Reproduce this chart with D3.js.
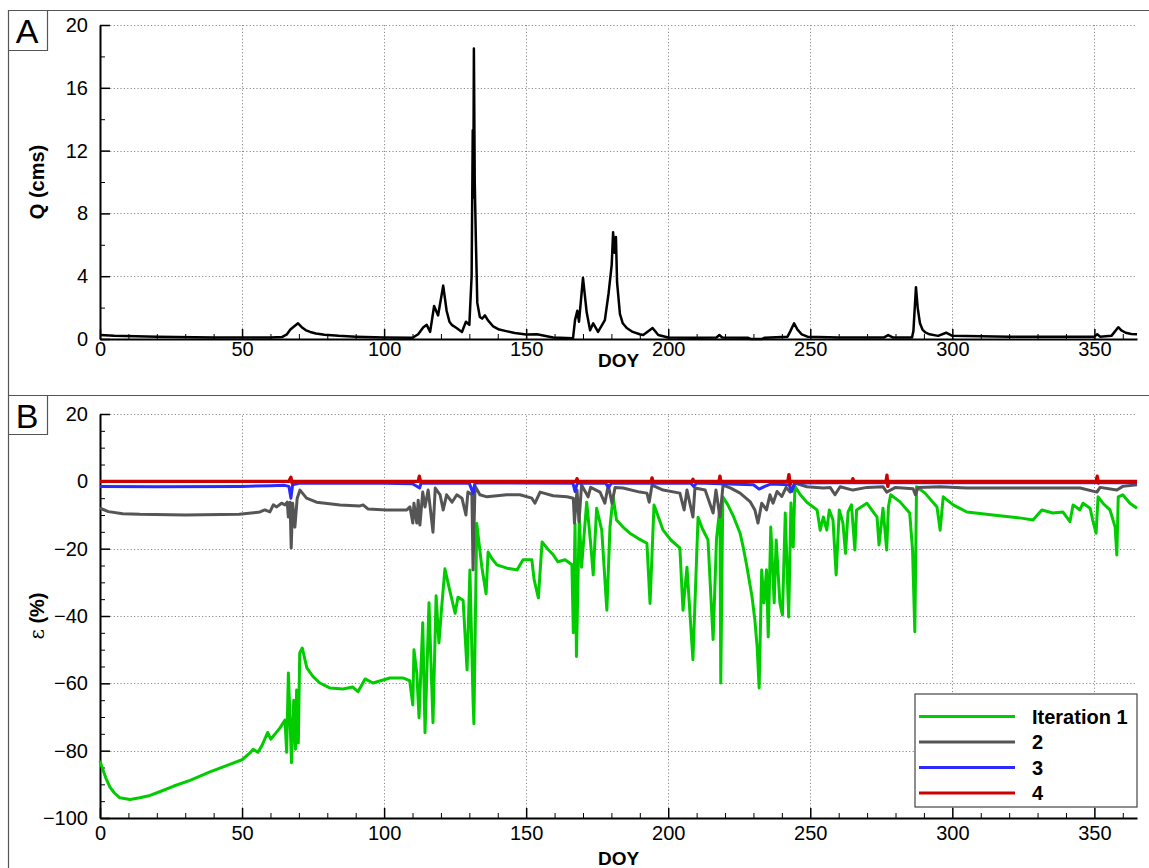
<!DOCTYPE html>
<html>
<head>
<meta charset="utf-8">
<script src="https://cdn.jsdelivr.net/npm/d3@7"></script>
<style>
  body { margin: 0; background: #fff; }
  text { font-family: "Liberation Sans", Arial, sans-serif; fill: #000; }
</style>
</head>
<body>
<svg id="chart" width="1149" height="868"></svg>
<script>
// ---- data ----
// panel A : discharge, [DOY, Q cms]
const qSeries = [[0,0.25],[5,0.2],[20,0.15],[40,0.1],[60,0.1],[64,0.12],[65.8,0.3],[67,0.6],[69.7,1.0],[71,0.75],[72.5,0.55],[74,0.45],[76,0.35],[79,0.27],[84,0.2],[90,0.15],[100,0.1],[110,0.08],[112,0.3],[113.8,0.75],[115,0.9],[116.2,0.45],[117.6,2.1],[119,1.5],[120.8,3.4],[122,1.8],[123,1.1],[123.8,0.9],[125.5,0.7],[127.4,0.45],[128.8,1.1],[130,0.9],[130.8,4],[131.2,13.3],[131.4,9],[131.6,18.5],[131.9,10],[132.3,6.3],[132.8,2.3],[133.7,1.4],[134.5,1.3],[135.5,1.5],[136.5,1.2],[138.4,0.8],[140.5,0.6],[143,0.5],[146,0.38],[150,0.28],[153.8,0.3],[159.5,0.1],[166.5,0.05],[167.2,1.2],[168,1.8],[168.6,1.1],[170,3.9],[171.3,1.7],[172.5,0.55],[173.6,1.0],[175.3,0.45],[177.7,1.2],[179,2.9],[180.1,4.7],[180.6,6.8],[181.1,5.5],[181.6,6.5],[182,3.6],[183,1.6],[184,1.0],[185.4,0.7],[187.5,0.45],[190,0.3],[191.2,0.25],[194.5,0.7],[196.5,0.25],[200,0.1],[210,0.08],[217,0.1],[218,0.25],[219,0.1],[228,0.08],[229,0.0],[233,0.0],[234,0.08],[242,0.15],[243,0.5],[244.3,1.0],[245.5,0.6],[247,0.3],[249,0.15],[260,0.1],[276,0.1],[277.4,0.25],[279,0.1],[285.8,0.1],[286.3,0.5],[287.2,3.3],[287.8,2],[288.6,1.0],[289.5,0.6],[290.5,0.42],[292,0.3],[295,0.2],[297.8,0.4],[300,0.2],[320,0.15],[340,0.15],[350,0.15],[351,0.3],[352,0.15],[356,0.2],[358.4,0.75],[359.5,0.55],[361,0.4],[363,0.32],[365,0.3]];

// panel B : error by iteration, [DOY, epsilon %]
const iter1 = [[0,-83],[0.6,-84.6],[2,-88],[3.5,-90.8],[5,-92.5],[7,-94],[10.6,-94.5],[14,-94],[17.6,-93.3],[21,-92.2],[26,-90.5],[31.7,-88.8],[38.7,-86.3],[45,-84.3],[50,-82.7],[53,-80.5],[53.9,-79.6],[55.6,-80.5],[57,-78.5],[59,-74.6],[60.1,-76.6],[63.3,-73.3],[65.1,-70.9],[65.7,-80.5],[66.3,-56.9],[66.9,-70.9],[67.4,-83.6],[68.2,-65],[68.8,-79.6],[69.2,-62],[69.8,-77.7],[70.3,-51],[71.2,-49.5],[72.8,-55.4],[75,-58],[77.4,-59.9],[81,-61.4],[85.5,-61.7],[89,-61.1],[90.8,-62.5],[93.3,-58.7],[96.1,-59.9],[102,-58.4],[106.6,-58.4],[109,-59.2],[110.1,-66.4],[110.5,-50],[111.5,-56.9],[112.3,-70.2],[113.6,-42],[114.4,-74.7],[115.8,-36.1],[117.2,-71.7],[118.3,-34],[119.3,-48],[120.2,-38],[121.4,-26],[123,-32],[125,-39.2],[126,-34.4],[127.8,-35.3],[129.2,-56],[130.2,-26.3],[131.3,-65],[131.6,-72],[132.6,-12.5],[134.4,-25.5],[135.9,-33.4],[136.6,-21],[138,-23],[139.7,-24.8],[143.2,-25.8],[146.8,-26.3],[148.9,-23.3],[152,-23.3],[152.8,-29.2],[154.3,-34.6],[155.6,-18],[157.5,-20],[159.5,-21.8],[161.2,-23.9],[163.7,-23.3],[166.1,-24.8],[166.6,-45],[167.2,-12.5],[167.7,-52],[168.7,-10.7],[169.5,-25.5],[171.3,-6.2],[172.7,-18.4],[173.6,-27.8],[174.8,-8],[176.6,-14.5],[178.4,-38.3],[179.5,-13.6],[180.6,-4.6],[181.8,-11.5],[184,-13.5],[186.5,-15.4],[189.5,-17],[192.5,-18.4],[193.6,-36.3],[195,-7],[196.5,-10.5],[198.2,-14.5],[201,-17.5],[204.1,-19.8],[205.2,-38.3],[206.6,-25.5],[208.7,-53],[210.5,-10.7],[212,-14],[214,-17.4],[215.8,-47],[217,-17],[218.2,-7.6],[218.5,-59.9],[219.2,-4.6],[221,-7],[223,-10.5],[225.3,-15.4],[226.5,-20],[227.7,-25.4],[229.5,-34.3],[230.5,-41.2],[231.3,-49.2],[232,-61.4],[232.9,-26.3],[233.7,-36.1],[234.6,-26.3],[235.2,-46.2],[236.1,-13.6],[237.3,-36.1],[238,-17.4],[239.3,-36.1],[240.2,-39.7],[241.2,-9.4],[242.4,-40.3],[243.2,-6.4],[244,-19.5],[244.6,-1.5],[246.5,-4],[248.8,-6.2],[252.4,-8.5],[253.5,-14.5],[254.6,-10.6],[255.8,-14.5],[256.7,-8.5],[258,-11.5],[259.1,-27.8],[260.2,-8.5],[261.5,-12.4],[262.4,-21.4],[263.3,-9.1],[264.5,-7],[265.7,-20.4],[266.3,-8.5],[269.9,-6.5],[273.5,-10.6],[274.2,-18.9],[275.6,-8],[276.9,-20.4],[277.5,-7.6],[278.3,-4],[281.6,-6.1],[285,-9.4],[286,-20.4],[286.8,-44.7],[287.4,-1.6],[290.4,-3.5],[294.6,-7.6],[295.7,-14.5],[296.8,-4.6],[300.3,-7],[305.1,-9.1],[314.3,-10],[324.9,-11],[328.4,-11.5],[331.5,-8.5],[335.4,-9.4],[338.9,-9.1],[341.4,-12],[342.5,-7],[344.9,-8.5],[346,-6.5],[348.5,-8],[349.4,-11.5],[350.6,-15.4],[351.3,-4.6],[353,-6.5],[355.5,-8.5],[357.3,-13.6],[357.9,-21.9],[358.4,-4.6],[360,-4],[362.5,-6.5],[365,-8]];

const iter2 = [[0,-8],[3,-9],[8,-9.6],[14,-9.8],[30,-10],[49,-9.8],[56.3,-9.1],[58,-8.5],[59.8,-9.1],[61,-7],[62.2,-7.6],[63.9,-6.5],[65.1,-7],[65.9,-6.2],[66.3,-10.6],[66.9,-6.2],[67.3,-19.8],[67.8,-6.5],[68.6,-13.6],[69.4,-5],[70.4,-2.6],[72.7,-5],[76.2,-6.2],[84.5,-7],[91.5,-7.3],[92.6,-7],[94.3,-8.2],[100.9,-8.5],[108,-8.5],[109.1,-7.6],[110.1,-12.4],[110.5,-6.5],[111.5,-12.4],[112,-5.6],[112.6,-13],[113.6,-3.2],[114.4,-7.6],[115.5,-2.6],[116.2,-7.6],[117.2,-15.1],[118,-2],[119.7,-4],[120.8,-8.5],[122,-4],[123.9,-6.2],[125.6,-4],[127.4,-5],[128.8,-10],[129.5,-3.2],[130.9,-4],[131.3,-26.3],[132,-1.4],[133.7,-4],[136.2,-4.6],[143.2,-4],[147.8,-4],[152,-5],[153.1,-6.5],[154.9,-3.2],[159.5,-4.3],[164.4,-4.6],[166.6,-5],[167,-12.4],[167.9,-2.6],[168.6,-12],[169.5,-1.1],[171.8,-4.6],[172.7,-1.8],[176,-3.2],[177.7,-6.5],[178.9,-1.1],[180.2,-6.5],[181.3,-1.8],[184.1,-2],[190,-3.2],[192.5,-3.5],[193.3,-6.2],[194.3,-1.1],[198.2,-2.6],[204.1,-3.5],[205.6,-8.5],[206.6,-2.6],[208.7,-10.6],[209.4,-2],[213,-2.6],[215.8,-9.4],[216.8,-2.6],[218.2,-10.6],[219.3,-1.1],[222,-2],[225.3,-3.5],[228.8,-6],[230.5,-8.5],[231.6,-12.4],[232.9,-6.5],[234.6,-8.5],[235.8,-4],[236.9,-6.5],[238.3,-3],[240,-4.5],[241.5,-1.8],[242.9,-3.2],[244.6,-0.5],[248.8,-1.6],[254.6,-2],[257,-1.8],[258.7,-4],[260.5,-1.6],[265,-2.6],[270,-1.8],[275.6,-1.6],[276.9,-3.2],[280,-1.8],[286.2,-2.2],[287,-4],[288,-1.8],[295.7,-1.6],[305,-2],[320,-2],[345,-2],[350.9,-3.2],[352,-1.8],[357.9,-2.6],[360,-1.5],[365,-1]];

const iter3 = [[0,-1.5],[20,-1.6],[50,-1.5],[60,-1.3],[65,-1.2],[66.5,-1.5],[67.2,-5],[67.8,-1],[70,-0.6],[100,-0.6],[110,-0.7],[112.5,-2],[113,-0.5],[130,-0.6],[131.3,-3.5],[132,-0.4],[166.5,-0.6],[167.2,-3],[168,-0.5],[178,-0.6],[179,-1.8],[180,-0.5],[208,-0.6],[209,-1.5],[210,-0.5],[230,-1],[232,-2.3],[234,-1.5],[236,-0.8],[242.5,-1],[243.5,-3],[244.5,-0.5],[260,-0.4],[300,-0.4],[365,-0.4]];

const iter4 = [[0,0],[66.5,0],[67.2,1.2],[67.6,-0.5],[68,0],[112,0],[112.4,1.5],[112.8,0],[167.6,0],[167.9,0.8],[168.2,0],[194,0],[194.3,1],[194.6,0],[208.4,0],[208.7,0.6],[209,0],[217.9,0],[218.2,1.5],[218.5,0],[242.1,0],[242.5,2],[242.9,-1],[243.3,0],[264.7,0],[265,0.8],[265.3,0],[276.7,0],[277,1.8],[277.3,-1.5],[277.6,0],[350.6,0],[351,1.5],[351.4,-0.5],[351.8,0],[365,0]];

const seriesNames = ["Iteration 1", "2", "3", "4"];
const seriesColors = ["#00cc00", "#555555", "#2a2aff", "#cc0000"];

const xTicks = [0, 50, 100, 150, 200, 250, 300, 350];
const qTicks = [0, 4, 8, 12, 16, 20];
const eTicks = [-100, -80, -60, -40, -20, 0, 20];

// ---- layout ----
const svg = d3.select("#chart");
const x = d3.scaleLinear().domain([0, 365]).range([100, 1137]);
const yA = d3.scaleLinear().domain([0, 20]).range([339, 25]);
const yB = d3.scaleLinear().domain([-100, 20]).range([818, 414]);

// frame lines and the A / B boxes
const frame = svg.append("g").attr("stroke", "#555").attr("stroke-width", 1.2).attr("fill", "none");
frame.append("path").attr("d", "M1149,10.5H8.5V868");
frame.append("path").attr("d", "M8.5,395.5H1149");
frame.append("path").attr("d", "M8.5,50.5H47.5V10.5");
frame.append("path").attr("d", "M8.5,434.5H47.5V395.5");
svg.append("text").attr("x", 27).attr("y", 43).attr("text-anchor", "middle")
  .style("font-size", "34px").text("A");
svg.append("text").attr("x", 27).attr("y", 428).attr("text-anchor", "middle")
  .style("font-size", "34px").text("B");

function drawPanel(y, yTicks, yMinorStep, labelY) {
  const g = svg.append("g");
  const [y0, y1] = y.domain();
  const bottom = y.range()[0], top = y.range()[1];

  // dotted grid
  const grid = g.append("g").attr("stroke", "#8a8a8a").attr("stroke-width", 1)
    .attr("stroke-dasharray", "1.2,2.2");
  grid.selectAll(".gx").data(xTicks.filter(d => d > 0)).enter().append("line")
    .attr("x1", d => Math.round(x(d)) + 0.5).attr("x2", d => Math.round(x(d)) + 0.5)
    .attr("y1", bottom).attr("y2", top);
  grid.selectAll(".gy").data(yTicks.filter(d => d > y0)).enter().append("line")
    .attr("y1", d => Math.round(y(d)) + 0.5).attr("y2", d => Math.round(y(d)) + 0.5)
    .attr("x1", x(0)).attr("x2", x(365));

  // minor ticks
  const xMinor = d3.range(0, 366, 10).filter(d => d % 50 !== 0);
  const yMinor = d3.range(y0, y1 + 0.01, yMinorStep).filter(d => !yTicks.includes(d));
  g.append("g").attr("transform", `translate(0,${bottom})`)
    .call(d3.axisBottom(x).tickValues(xMinor).tickSize(-5).tickSizeOuter(0).tickFormat(""))
    .call(a => a.select(".domain").remove());
  g.append("g").attr("transform", `translate(${x(0)},0)`)
    .call(d3.axisLeft(y).tickValues(yMinor).tickSize(-5).tickSizeOuter(0).tickFormat(""))
    .call(a => a.select(".domain").remove());

  // major axes
  const ax = g.append("g").attr("transform", `translate(0,${bottom})`)
    .call(d3.axisBottom(x).tickValues(xTicks).tickSize(-10).tickSizeOuter(0).tickPadding(labelY));
  const ay = g.append("g").attr("transform", `translate(${x(0)},0)`)
    .call(d3.axisLeft(y).tickValues(yTicks).tickSize(-10).tickSizeOuter(0).tickPadding(12));
  [ax, ay].forEach(a => {
    a.select(".domain").attr("stroke-width", 2);
    a.selectAll(".tick line").attr("stroke-width", 1.5);
    a.selectAll("text").style("font-size", "20px").style("font-family", '"Liberation Sans", Arial, sans-serif');
  });
  g.selectAll(".tick line").attr("stroke", "#000");
  return g;
}

// ---- panel A ----
const gA = drawPanel(yA, qTicks, 2, 3);
gA.append("path").datum(qSeries)
  .attr("fill", "none").attr("stroke", "#000").attr("stroke-width", 2.5)
  .attr("stroke-linejoin", "round")
  .attr("d", d3.line().x(d => x(d[0])).y(d => yA(d[1])));
svg.append("text").attr("x", x(182.5)).attr("y", 367).attr("text-anchor", "middle")
  .style("font-size", "19px").style("font-weight", "bold").text("DOY");
svg.append("text").attr("transform", `translate(44,${(yA(0) + yA(20)) / 2}) rotate(-90)`)
  .attr("text-anchor", "middle").style("font-size", "20px").style("font-weight", "bold").text("Q (cms)");

// ---- panel B ----
const gB = drawPanel(yB, eTicks, 5, 8);
const lineB = d3.line().x(d => x(d[0])).y(d => yB(d[1]));
[iter1, iter2, iter3, iter4].forEach((s, i) => {
  gB.append("path").datum(s)
    .attr("fill", "none").attr("stroke", seriesColors[i])
    .attr("stroke-width", i === 3 ? 3.4 : 3)
    .attr("stroke-linejoin", "round")
    .attr("d", lineB);
});
svg.append("text").attr("x", x(182.5)).attr("y", 865).attr("text-anchor", "middle")
  .style("font-size", "19px").style("font-weight", "bold").text("DOY");
const eLabel = svg.append("text")
  .attr("transform", `translate(44,${(yB(-100) + yB(20)) / 2}) rotate(-90)`)
  .attr("text-anchor", "middle").style("font-size", "20px");
eLabel.append("tspan").style("font-family", '"DejaVu Serif", serif').style("font-size", "20px").text("ε");
eLabel.append("tspan").style("font-weight", "bold").text(" (%)");

// legend
const legend = svg.append("g").attr("transform", "translate(915,694)");
legend.append("rect").attr("width", 222).attr("height", 113)
  .attr("fill", "#fff").attr("stroke", "#444").attr("stroke-width", 1.2);
const item = legend.selectAll(".item").data(seriesNames).enter().append("g")
  .attr("transform", (d, i) => `translate(0,${22.5 + i * 25.5})`);
item.append("line").attr("x1", 4).attr("x2", 100)
  .attr("stroke", (d, i) => seriesColors[i]).attr("stroke-width", 3);
item.append("text").attr("x", 117).attr("y", 7)
  .style("font-size", "20px").style("font-weight", "bold").text(d => d);
</script>
</body>
</html>
